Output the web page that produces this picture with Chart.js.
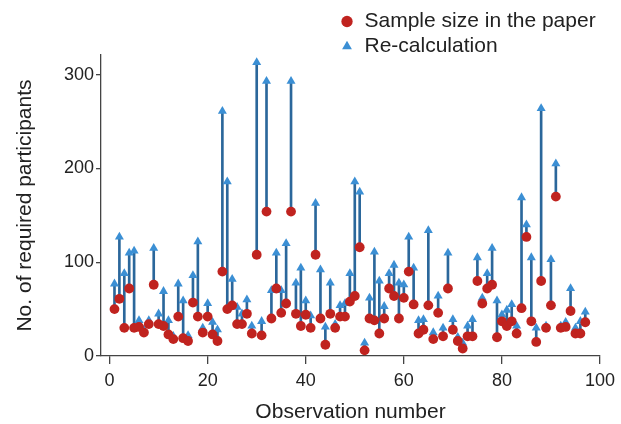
<!DOCTYPE html>
<html>
<head>
<meta charset="utf-8">
<script src="https://cdn.jsdelivr.net/npm/chart.js@4/dist/chart.umd.min.js"></script>
<style>
  body { margin: 0; background: #fff; }
  #box { width: 621px; height: 424px; }
</style>
</head>
<body>
<div id="box"><canvas id="myChart" width="621" height="424"></canvas></div>
<script>
// sample size reported in each paper (red dots)
const paperSize = [50, 61, 30, 72, 30, 31, 25, 34, 76, 34, 32, 23, 18, 42, 19, 16, 57, 42, 25, 42,
  23, 16, 90, 50, 54, 34, 34, 45, 24, 108, 22, 154, 40, 72, 46, 56, 154, 45, 32, 44,
  30, 108, 40, 12, 45, 30, 42, 42, 58, 64, 116, 6, 40, 38, 24, 40, 72, 64, 40, 62,
  90, 55, 24, 28, 54, 18, 46, 21, 72, 28, 16, 8, 21, 21, 80, 56, 72, 76, 20, 37,
  32, 37, 24, 51, 127, 37, 15, 80, 30, 54, 170, 30, 31, 48, 24, 24, 36]
// re-calculated sample size (blue triangles)
const recalcSize = [77, 127, 88, 110, 112, 38, 28, 38, 115, 45, 69, 38, 21, 77, 59, 22, 86, 122, 30, 56,
  36, 28, 261, 186, 82, 52, 45, 60, 32, 313, 37, 293, 70, 110, 70, 120, 293, 78, 94, 59,
  43, 163, 92, 31, 78, 34, 54, 56, 88, 186, 175, 14, 62, 111, 80, 53, 88, 97, 78, 76,
  127, 94, 38, 39, 134, 25, 64, 30, 110, 39, 20, 14, 32, 39, 105, 62, 88, 115, 59, 44,
  49, 55, 32, 169, 140, 105, 30, 264, 32, 103, 205, 32, 36, 72, 30, 37, 47]
const observations = paperSize.map((v, i) => i + 1)
const xTicks = [0, 20, 40, 60, 80, 100]
const yTicks = [0, 100, 200, 300]

const redColor = '#c0231f'
const blueColor = '#3b8fd4'
const stemColor = '#2b679b'
const font = 'Liberation Sans, Arial, sans-serif'

// put the legend above the plot, as a column
const moveLegend = {
  id: 'moveLegend',
  afterLayout(chart) {
    const l = chart.legend
    const w = l.width, h = l.height
    l.left = 336; l.top = 7
    l.right = l.left + w; l.bottom = l.top + h
  }
}

const ctx = document.getElementById('myChart')
new Chart(ctx, {
  type: 'bar',
  data: {
    datasets: [{
      type: 'scatter',
      label: 'Sample size in the paper',
      data: observations.map((x, i) => ({ x: x, y: paperSize[i] })),
      pointStyle: 'circle',
      pointRadius: 4.9,
      backgroundColor: redColor,
      borderWidth: 0,
      order: 1
    }, {
      type: 'scatter',
      label: 'Re-calculation',
      data: observations.map((x, i) => ({ x: x, y: recalcSize[i] })),
      pointStyle: 'triangle',
      pointRadius: 5.2,
      backgroundColor: blueColor,
      borderColor: blueColor,
      borderWidth: 0,
      order: 2
    }, {
      type: 'bar',
      label: 'stem',
      data: observations.map((x, i) => ({ x: x, y: [paperSize[i], recalcSize[i]] })),
      backgroundColor: stemColor,
      barThickness: 2,
      borderWidth: 0,
      order: 3
    }]
  },
  options: {
    responsive: false,
    animation: false,
    clip: false,
    layout: { padding: { top: 55, right: 20, left: 0, bottom: 0 } },
    plugins: {
      tooltip: { enabled: false },
      legend: {
        position: 'chartArea',
        align: 'start',
        labels: {
          usePointStyle: true,
          boxWidth: 14,
          boxHeight: 8,
          padding: 4,
          color: '#222',
          font: { family: font, size: 21 },
          filter: (item) => item.text !== 'stem'
        }
      }
    },
    scales: {
      x: {
        type: 'linear',
        offset: false,
        min: -1.75,
        max: 100,
        afterBuildTicks: (s) => { s.ticks = xTicks.map(v => ({ value: v })) },
        afterFit: (s) => { s.height = 68 },
        border: { display: true, color: '#444', width: 1.3 },
        grid: { display: true, offset: false, drawOnChartArea: false, drawTicks: true, tickLength: 8, color: '#444', lineWidth: 1.3 },
        ticks: { color: '#222', font: { family: font, size: 18 }, padding: 6, maxRotation: 0 },
        title: { display: true, text: 'Observation number', color: '#222', font: { family: font, size: 21 }, padding: { top: 0, bottom: -1 } }
      },
      y: {
        min: 0,
        max: 321,
        afterBuildTicks: (s) => { s.ticks = yTicks.map(v => ({ value: v })) },
        afterFit: (s) => { s.width = 101 },
        border: { display: true, color: '#444', width: 1.3 },
        grid: { display: true, drawOnChartArea: false, drawTicks: true, tickLength: 5, color: '#444', lineWidth: 1.3 },
        ticks: { color: '#222', font: { family: font, size: 18 }, padding: 2 },
        title: { display: true, text: 'No. of required participants', color: '#222', font: { family: font, size: 21 }, padding: { top: 13, bottom: 0 } }
      }
    }
  },
  plugins: [moveLegend]
})
</script>
</body>
</html>
